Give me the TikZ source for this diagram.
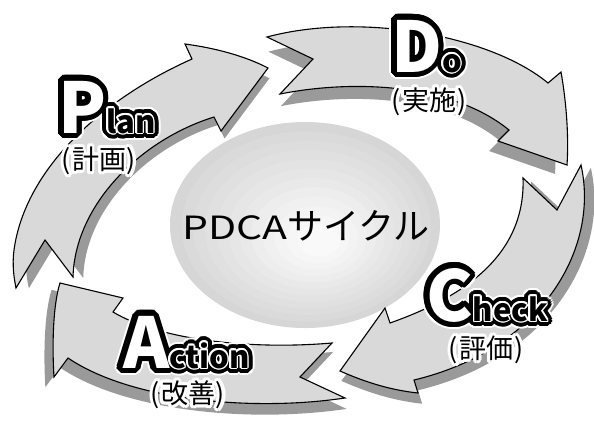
\documentclass[tikz,border=0pt]{standalone}
\usepackage{fontspec}
\usepackage{graphicx}
\newfontfamily\jp{Noto Sans CJK JP}
\definecolor{arrowgray}{HTML}{D9D9D9}
\definecolor{shadowgray}{HTML}{9A9A9A}
\tikzset{
  arrowfill/.style={fill=arrowgray, draw=black, line width=1.1pt},
  shadowfill/.style={fill=shadowgray},
  wordnode/.style={inner sep=0pt, outer sep=0pt, anchor=base west},
  jpnode/.style={inner sep=0pt, outer sep=0pt, font=\jp\fontsize{27}{27}\selectfont},
}
\newcommand\capfnt{\jp\bfseries\fontsize{70}{70}\selectfont}
\newcommand\lowfnt{\jp\bfseries\fontsize{31}{31}\selectfont}
\newcommand\capword[4]{%
  \foreach \a in {0,15,...,345}{\node[wordnode,text=white,xshift={7.5*cos(\a)},yshift={7.5*sin(\a)}] at #1 {{\capfnt #2}{\lowfnt #3}};}
  \foreach \a in {0,15,...,345}{\node[wordnode,text=black,xshift={5.5*cos(\a)},yshift={5.5*sin(\a)}] at #1 {{\capfnt #2}{\lowfnt #3}};
    \node[wordnode,text=black,xshift={3*cos(\a)},yshift={3*sin(\a)}] at #1 {{\capfnt #2}{\lowfnt #3}};}
  \foreach \a in {0,30,...,330}{\node[wordnode,text=white,xshift={1.6*cos(\a)},yshift={1.6*sin(\a)}] at #1 {{\capfnt\phantom{#2}}{\lowfnt #3}};}
  \node[wordnode,text=black] (#4) at #1 {{\capfnt\textcolor{white}{#2}}{\lowfnt #3}};
}
\newcommand\jplabel[3]{%
  \foreach \a in {0,22.5,...,337.5}{\node[jpnode,text=white,xshift={3*cos(\a)},yshift={3*sin(\a)}] at #1 {#2};}
  \node[jpnode,text=black] (#3) at #1 {#2};
}
\def\planpath{(16,288) -- (45,240) -- (73,277) .. controls (75,205) and (140,140) .. (214,117) -- (221,131) -- (268,68) .. controls (245,56) and (215,48) .. (185,44) -- (192,59) .. controls (100,100) and (25,170) .. (14,250) .. controls (12,265) and (14,278) .. (16,288) -- cycle}
\def\dopath{(267,37) -- (313,59) -- (280,94) .. controls (350,80) and (450,82) .. (509,130) -- (498,141) -- (567,165) .. controls (569,135) and (566,100) .. (561,72) -- (548,83) .. controls (490,35) and (360,12) .. (267,37) -- cycle}
\def\checkpath{(523,178) -- (557,210) -- (581,165) .. controls (600,250) and (540,350) .. (414,380) -- (418,393) .. controls (390,390) and (365,382) .. (340,371) -- (385,308) -- (390,323) .. controls (455,300) and (526,260) .. (523,178) -- cycle}
\def\actionpath{(332,343) -- (300,377) -- (345,398) .. controls (250,412) and (130,400) .. (68,358) -- (54,377) .. controls (52,345) and (53,305) .. (60,283) -- (123,298) -- (113,312) .. controls (160,340) and (250,350) .. (332,343) -- cycle}
\begin{document}
\begin{tikzpicture}[x=1pt,y=-1pt]
\useasboundingbox (0,0) rectangle (594,421);
\fill[white] (0,0) rectangle (594,421);
% central shaded ellipse (stepped bands)
\foreach \i in {0,...,11}{
  \pgfmathsetmacro\t{\i/12}
  \pgfmathsetmacro\q{84+1.25*\i}
  \fill[white!\q!black] ({305+15*\t},{225+17*\t}) ellipse ({135*(1-0.92*\t)} and {103*(1-0.92*\t)});
}
% shadows
\fill[shadowfill, yshift=-3pt, scale around={0.955:(300,230)}] \planpath;
\fill[shadowfill, yshift=-6pt, scale around={0.955:(300,230)}] \dopath;
\fill[shadowfill, yshift=-5pt, scale around={1.035:(300,230)}] \checkpath;
\fill[shadowfill, yshift=-5pt, scale around={1.035:(300,230)}] \actionpath;
% arrows
\filldraw[arrowfill] \planpath;
\filldraw[arrowfill] \dopath;
\filldraw[arrowfill] \checkpath;
\filldraw[arrowfill] \actionpath;
% centre title
\node[inner sep=0pt] (title) at (306,226) {\jp\fontsize{32}{32}\selectfont\scalebox{1.28}[1]{PDCA}\fontsize{36}{36}\selectfont サイクル};
% words
\capword{(58,133)}{P}{lan}{plan}
\capword{(391,72)}{D}{o}{do}
\capword{(426,321)}{C}{heck}{check}
\capword{(123,368)}{A}{ction}{action}
\jplabel{(99,161)}{(\kern1pt計画\kern1pt)}{planjp}
\jplabel{(429,102)}{(\kern1pt実施\kern1pt)}{dojp}
\jplabel{(486,350)}{(\kern1pt評価\kern1pt)}{checkjp}
\jplabel{(188,395)}{(\kern1pt改善\kern1pt)}{actionjp}
\end{tikzpicture}
\end{document}
